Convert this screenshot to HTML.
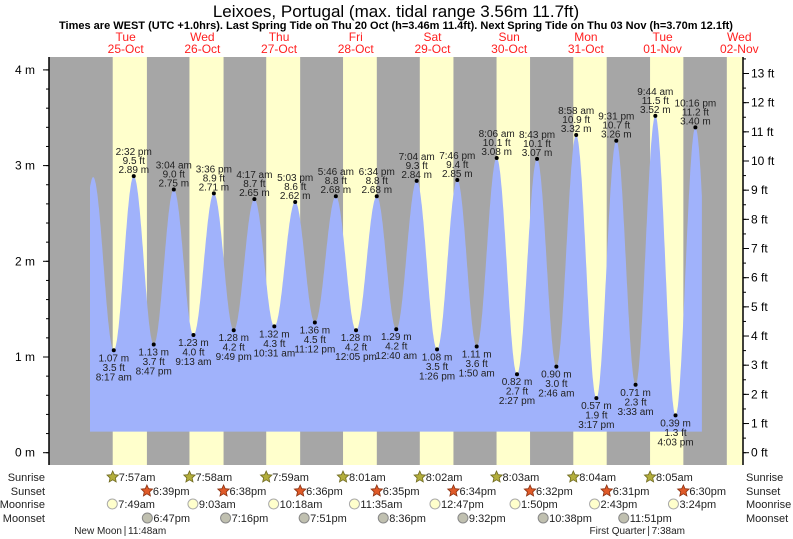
<!DOCTYPE html>
<html><head><meta charset="utf-8"><style>
body{margin:0;background:#fff}
svg{display:block;font-family:"Liberation Sans",sans-serif}
</style></head><body>
<svg id="c" width="793" height="539" viewBox="0 0 793 539" xmlns="http://www.w3.org/2000/svg">
<text x="396" y="17" font-size="17" text-anchor="middle">Leixoes, Portugal (max. tidal range 3.56m 11.7ft)</text>
<text x="396" y="29" font-size="11" font-weight="bold" text-anchor="middle">Times are WEST (UTC +1.0hrs). Last Spring Tide on Thu 20 Oct (h=3.46m 11.4ft). Next Spring Tide on Thu 03 Nov (h=3.70m 12.1ft)</text>
<g id="bg"></g><g id="tide"></g><g id="axes"></g><g id="rows"></g>
</svg>
<script>
const dayNames=['Tue','Wed','Thu','Fri','Sat','Sun','Mon','Tue','Wed'];
const dayDates=['25-Oct','26-Oct','27-Oct','28-Oct','29-Oct','30-Oct','31-Oct','01-Nov','02-Nov'];
const sunrise=['7:57','7:58','7:59','8:01','8:02','8:03','8:04','8:05'];
const sunset=['18:39','18:38','18:36','18:35','18:34','18:32','18:31','18:30'];
const moonrise=['7:49','9:03','10:18','11:35','12:47','13:50','14:43','15:24'];
const moonset=['18:47','19:16','19:51','20:36','21:32','22:38','23:51'];
const tideTimes=['24 19:35','25 01:50','25 08:17','25 14:32','25 20:47','26 03:04','26 09:13','26 15:36','26 21:49','27 04:17','27 10:31','27 17:03','27 23:12','28 05:46','28 12:05','28 18:34','29 00:40','29 07:04','29 13:26','29 19:46','30 01:50','30 08:06','30 14:27','30 20:43','31 02:46','31 08:58','31 15:17','31 21:31','32 03:33','32 09:44','32 16:03','32 22:16','33 04:30'];
const tideHeights=[1.10,2.88,1.07,2.89,1.13,2.75,1.23,2.71,1.28,2.65,1.32,2.62,1.36,2.68,1.28,2.68,1.29,2.84,1.08,2.85,1.11,3.08,0.82,3.07,0.90,3.32,0.57,3.26,0.71,3.52,0.39,3.40,0.40];
const tideLabeled=[0,0,1,1,1,1,1,1,1,1,1,1,1,1,1,1,1,1,1,1,1,1,1,1,1,1,1,1,1,1,1,1,0];
const yTicksM=[0,1,2,3,4];
const yTicksFt=[0,1,2,3,4,5,6,7,8,9,10,11,12,13];
const moonPhases=[['New Moon','25 11:48','11:48am'],['First Quarter','32 07:38','7:38am']];

const NS='http://www.w3.org/2000/svg';
const X0=87.3,PXH=3.196,Y0=452.7,PXM=95.7;
const L=49,R=743,T=57,B=465;
const xH=h=>X0+h*PXH, yM=m=>Y0-m*PXM;
const hm=s=>{const p=s.split(':');return +p[0]+p[1]/60;};
const th=s=>{const p=s.split(' ');return (+p[0]-25)*24+hm(p[1]);};
function el(tag,attrs,parent,txt){const e=document.createElementNS(NS,tag);for(const k in attrs)e.setAttribute(k,attrs[k]);if(txt!==undefined)e.textContent=txt;parent.appendChild(e);return e;}
const bg=document.getElementById('bg'),tide=document.getElementById('tide'),axes=document.getElementById('axes'),rows=document.getElementById('rows');
function fmt12(s){let [h,m]=s.split(':').map(Number);const ap=h>=12?'pm':'am';h=h%12;if(h===0)h=12;return h+':'+String(m).padStart(2,'0')+ap;}

let r=el('rect',{x:L,y:T,width:R-L,height:B-T,fill:'#a6a6a6'},bg);

for(let d=0;d<9;d++){
  const a=d<8?hm(sunrise[d]):8.1, b=d<8?hm(sunset[d]):18.5;
  let x1=Math.max(L,xH(d*24+a)),x2=Math.min(R,xH(d*24+b));
  if(x2>x1){const s=el('rect',{x:x1,y:T,width:x2-x1,height:B-T,fill:'#ffffcc'},bg);
  }
  const cx=xH(d*24+12);
  const t1=el('text',{x:cx,y:41,'font-size':12,fill:'#ff2020','text-anchor':'middle'},bg,dayNames[d]);
  
  const t2=el('text',{x:cx,y:53,'font-size':12,fill:'#ff2020','text-anchor':'middle'},bg,dayDates[d]);
  
}

const hrs=tideTimes.map(th);
const hStart=0.85,hEnd=192.3,base=yM(0.22);
function level(h){for(let i=0;i<hrs.length-1;i++){if(h>=hrs[i]&&h<=hrs[i+1]){const f=(h-hrs[i])/(hrs[i+1]-hrs[i]);return tideHeights[i]+(tideHeights[i+1]-tideHeights[i])*(1-Math.cos(Math.PI*f))/2;}}return tideHeights[0];}
let pts=[[xH(hStart),base]];
for(let h=hStart;h<=hEnd;h+=0.1)pts.push([xH(h),yM(level(h))]);
pts.push([xH(hEnd),yM(level(hEnd))]);pts.push([xH(hEnd),base]);
const poly=el('polygon',{points:pts.map(p=>p[0].toFixed(1)+','+p[1].toFixed(1)).join(' '),fill:'#a0b2fb'},tide);

for(let i=0;i<hrs.length;i++){
  if(!tideLabeled[i])continue;
  const x=xH(hrs[i]),y=yM(tideHeights[i]);
  const isHigh=tideHeights[i]>=tideHeights[i-1];
  const dot=el('circle',{cx:x,cy:y,r:2,fill:'#000'},tide);
  
  const tm=fmt12(tideTimes[i].split(' ')[1]).replace(/(am|pm)$/,' $1');
  const ft=(tideHeights[i]*3.28084).toFixed(1)+' ft', m=tideHeights[i].toFixed(2)+' m';
  const lines=isHigh?[[tm,y-21],[ft,y-12],[m,y-3]]:[[m,y+11],[ft,y+20.5],[tm,y+30]];
  lines.forEach(l=>{const t=el('text',{x:x,y:l[1],'font-size':10,fill:'#222','text-anchor':'middle'},tide,l[0]);
    });
}

el('line',{x1:L,y1:T,x2:L,y2:B,stroke:'#000','stroke-width':1.5},axes);
el('line',{x1:R,y1:T,x2:R,y2:B,stroke:'#000','stroke-width':1.5},axes);
for(let m=0;m<=4.4;m+=0.2){const y=yM(m);if(y<T)break;el('line',{x1:L-3,y1:y,x2:L,y2:y,stroke:'#000'},axes);}
yTicksM.forEach(m=>{const y=yM(m);el('line',{x1:L-6,y1:y,x2:L,y2:y,stroke:'#000'},axes);
  const t=el('text',{x:35,y:y+4,'font-size':12,'text-anchor':'end'},axes,m+' m');
  });
for(let f=0;f<=13.5;f+=0.5){const y=yM(f*0.3048);el('line',{x1:R,y1:y,x2:R+3,y2:y,stroke:'#000'},axes);}
yTicksFt.forEach(f=>{const y=yM(f*0.3048);el('line',{x1:R,y1:y,x2:R+6,y2:y,stroke:'#000'},axes);
  const t=el('text',{x:751,y:y+4,'font-size':12},axes,f+' ft');
  });

const rowY=[481,495,508,522];
['Sunrise','Sunset','Moonrise','Moonset'].forEach((n,i)=>{
  const a=el('text',{x:45,y:rowY[i],'font-size':11,fill:'#222','text-anchor':'end'},rows,n);
  
  const b=el('text',{x:746,y:rowY[i],'font-size':11,fill:'#222'},rows,n);
  
});
function star(cx,cy,fill,stroke){let p=[];for(let k=0;k<10;k++){const rr=k%2?2.8:6,a=-Math.PI/2+k*Math.PI/5;p.push((cx+rr*Math.cos(a)).toFixed(1)+','+(cy+rr*Math.sin(a)).toFixed(1));}
  const s=el('polygon',{points:p.join(' '),fill:fill,stroke:stroke,'stroke-width':0.8},rows);return s;}
function rowItem(arr,ri,kind){arr.forEach((t,d)=>{const x=xH(d*24+hm(t)),cy=rowY[ri]-4;let ic;
  if(kind==='sunrise')ic=star(x,cy,'#b3ae3c','#6f6a20');
  else if(kind==='sunset')ic=star(x,cy,'#e05a28','#8a3010');
  else if(kind==='moonrise')ic=el('circle',{cx:x,cy:cy,r:5,fill:'#ffffcc',stroke:'#aaa'},rows);
  else ic=el('circle',{cx:x,cy:cy,r:5,fill:'#c0c0b0',stroke:'#888'},rows);
  
  const tx=el('text',{x:x+6,y:rowY[ri],'font-size':11,fill:'#222'},rows,fmt12(t));
  });}
rowItem(sunrise,0,'sunrise');rowItem(sunset,1,'sunset');rowItem(moonrise,2,'moonrise');rowItem(moonset,3,'moonset');
moonPhases.forEach(p=>{const x=xH(th(p[1]));
  const a=el('text',{x:x-3,y:534,'font-size':10,fill:'#222','text-anchor':'end'},rows,p[0]);
  
  el('line',{x1:x,y1:526,x2:x,y2:536,stroke:'#222','stroke-width':0.8},rows);
  const b=el('text',{x:x+3,y:534,'font-size':10,fill:'#222'},rows,p[2]);
  });
</script>
</body></html>
